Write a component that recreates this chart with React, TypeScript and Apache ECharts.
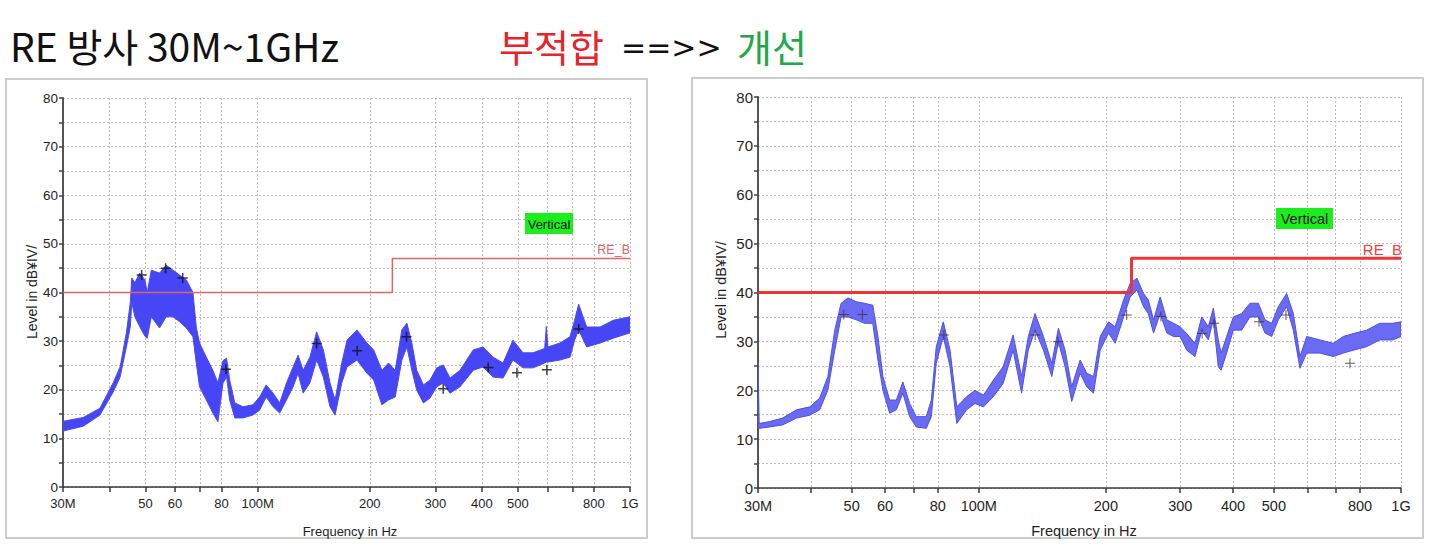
import React, { useEffect, useRef } from "react";
import * as echarts from "echarts";

// ---------- data ----------
const tickFreqs = [30, 40, 50, 60, 70, 80, 100, 200, 300, 400, 500, 600, 700, 800, 1000];
const labelFreqs = [30, 50, 60, 80, 100, 200, 300, 400, 500, 800, 1000];
const specialLabels: Record<number, string> = { 30: "30M", 100: "100M", 1000: "1G" };

const limitFreq = [30, 230, 230, 1000];
const limitLevel = [40, 40, 47, 47];

// left (before: 부적합)
const leftFreq = [30, 34, 37.7, 40.9, 42.7, 44.4, 45.5, 45.9, 46.8, 48.2, 49.8, 50.5, 51.8, 54.5, 56.8, 59.2, 61.7, 64.3, 67, 68.4, 69.8, 72.8, 75.8, 78.2, 80.7, 82.5, 84.1, 86.8, 91.3, 97.1, 101.2, 105.4, 110, 114.6, 119.5, 124.5, 128.4, 132.5, 138.1, 144, 150.1, 156.4, 161.4, 168.2, 173.8, 184.8, 196.6, 204.9, 215.6, 224.6, 234.1, 243.9, 251.6, 259.5, 267.4, 278.7, 290.4, 302.6, 315.2, 328.5, 349.4, 379.3, 403.3, 429, 456, 485, 516, 549, 590, 596, 602, 648, 690, 710, 728, 765, 831, 902, 1000];
const leftLow = [11.5, 12.5, 14.8, 19.5, 22.6, 28.8, 33, 38, 35, 33, 31, 30.6, 35, 32.7, 35, 35, 34, 32.7, 30.9, 25.5, 20.6, 17.9, 15.2, 13.4, 21.4, 22.6, 17.9, 14.2, 14.2, 14.8, 15.8, 18.5, 16.5, 15.2, 17.9, 20.6, 23.4, 19.3, 21.4, 26.1, 22.6, 16.5, 14.8, 21.4, 24.7, 26.1, 23.4, 22, 16.9, 17.9, 18.5, 26.1, 28.8, 24, 19.9, 17.3, 18.3, 20.6, 21.4, 19.3, 20.6, 24, 24.7, 22.6, 22.4, 26.1, 24.5, 24.5, 25.5, 25.7, 25.7, 26.1, 26.7, 30.2, 32.3, 28.8, 29.6, 30.6, 31.7];
const leftHigh = [13.5, 14.3, 16.2, 21.4, 24.7, 31.7, 38, 43, 42, 44, 42.6, 40, 44.6, 44, 45.6, 44.6, 43.6, 42.6, 40, 32.9, 29.6, 26.7, 24, 21.4, 26, 26.5, 22, 17.3, 16.5, 16.9, 18.5, 21, 19.3, 17.3, 21.4, 24.7, 27.1, 24, 26.7, 31.9, 28.2, 21.4, 17.9, 25.5, 30.2, 32.3, 29.6, 28.2, 24, 25.5, 24, 32.3, 33.7, 29.6, 24, 21, 22, 24.5, 25.1, 22.4, 24, 28.2, 28.8, 26.7, 25.5, 30.2, 27.6, 27.6, 28.5, 33, 28.8, 29.6, 30.9, 34.3, 37.6, 32.9, 32.9, 34.3, 35];
const leftMarkFreq = [48.8, 56.6, 62.9, 82.2, 144, 185, 251, 315, 416, 497, 598, 728];
const leftMarkLevel = [43.6, 45.0, 43.0, 24.2, 29.5, 28.0, 30.9, 20.2, 24.6, 23.5, 24.1, 32.5];

// right (after: 개선)
const rightFreq = [30, 30.2, 32, 34.3, 37, 39.8, 42, 43.9, 45.6, 47.2, 49, 51.3, 53.6, 56.1, 57.7, 59.3, 61.5, 63.8, 66.1, 68.6, 71.1, 75.1, 77.2, 79.3, 82.4, 85.5, 88.7, 93.6, 98, 102.6, 108.3, 114.2, 120.6, 126.3, 131, 135.9, 142.3, 148.9, 154.4, 160.1, 166, 173.8, 180.2, 187, 193.9, 202.9, 210.4, 220.3, 228.4, 236.9, 245.6, 252, 259.4, 268.9, 278.9, 289.2, 299.7, 310.8, 325.2, 337.3, 349.7, 359.3, 369.2, 375, 386.4, 400.7, 419.4, 438.9, 459.3, 476.3, 494, 512.2, 536, 555.8, 576.4, 598, 642.7, 691, 729.8, 770.8, 828.6, 890.5, 957, 1000];
const rightLow = [12.2, 12.2, 12.5, 12.9, 14.3, 14.9, 16, 20, 28.2, 35, 35, 34.4, 33.7, 33.7, 26.2, 20, 15.3, 16, 19.4, 14.6, 12.5, 12.2, 14.6, 25.5, 31, 24.8, 13.2, 16, 17.3, 16.6, 18.7, 21.4, 28.2, 19.4, 28.2, 32.3, 28.2, 22.8, 29.9, 24.8, 17.7, 23.5, 20.7, 19.4, 28.2, 31.7, 29.6, 35, 39.1, 40.5, 37.1, 35.7, 31.7, 35.7, 31.7, 31, 31, 28.2, 26.9, 32.3, 30.3, 34.4, 24.8, 24.1, 27.6, 32.3, 32.3, 35, 35, 31.7, 31, 34.4, 37.1, 32.3, 24.5, 27.6, 27.6, 26.9, 27.6, 28.2, 28.9, 30.3, 30.3, 31];
const rightHigh = [26, 13.2, 13.6, 14.3, 16, 16.6, 18.4, 22.8, 32.3, 37.8, 38.9, 38.1, 37.8, 37.4, 31, 22.8, 18, 18, 21.7, 17.3, 14.6, 14.6, 18, 28.9, 34, 28.2, 16.6, 18.7, 20, 19, 22.1, 24.8, 31.3, 22.8, 31, 35.7, 31, 25.5, 32.7, 28.2, 20.7, 26.2, 23.5, 22.8, 31, 34, 33, 38.5, 41.9, 42.9, 39.8, 38.5, 34.4, 39.1, 34.4, 33.7, 33, 31.6, 29.6, 35, 33, 36.8, 30.3, 27.6, 31, 35, 35.7, 37.8, 37.8, 34.4, 33.7, 37.1, 39.8, 35.7, 26.9, 31, 30.3, 29.6, 31, 31.6, 32.3, 33.7, 33.7, 34];
const rightMarkFreq = [47.9, 53.0, 82.7, 136, 154, 224, 270, 338, 361, 461, 534, 757];
const rightMarkLevel = [35.5, 35.5, 31.3, 31.3, 29.9, 35.4, 35.1, 31.6, 33.7, 34.0, 35.4, 25.5];

// ---------- helpers ----------
const lg = (f: number) => Math.log10(f);
const fmtFreq = (v: number) => {
  const f = Math.round(Math.pow(10, v));
  return specialLabels[f] ?? String(f);
};

const PLUS_THICK = "path://M4.25,0H5.75V4.25H10V5.75H5.75V10H4.25V5.75H0V4.25H4.25Z";
const PLUS_THIN = "path://M4.5,0H5.5V4.5H10V5.5H5.5V10H4.5V5.5H0V4.5H4.5Z";

function xAxisCfg(i: number, fontSize: number) {
  return {
    type: "value",
    gridIndex: i,
    min: lg(30),
    max: lg(1000),
    axisLine: { show: true, onZero: false, lineStyle: { color: "#3a3a3a", width: 1.5 } },
    axisTick: {
      show: true,
      customValues: tickFreqs.map(lg),
      length: 5,
      lineStyle: { color: "#3a3a3a", width: 1.5 },
    },
    axisLabel: {
      customValues: labelFreqs.map(lg),
      formatter: (v: number) => fmtFreq(v),
      color: "#1e1e1e",
      fontSize,
      fontFamily: "Liberation Sans, Arial, sans-serif",
      margin: 10,
      showMinLabel: true,
      showMaxLabel: true,
    },
    splitLine: { show: true, lineStyle: { color: "#bcbcbc", type: [2, 2], width: 1 } },
  };
}

function yAxisCfg(i: number, fontSize: number) {
  return {
    type: "value",
    gridIndex: i,
    min: 0,
    max: 80,
    interval: 10,
    axisLine: { show: true, lineStyle: { color: "#555555", width: 2 } },
    axisTick: { show: true, length: 4, lineStyle: { color: "#444", width: 1.5 } },
    minorTick: { show: true, splitNumber: 2, length: 4, lineStyle: { color: "#444", width: 1.5 } },
    axisLabel: {
      color: "#1e1e1e",
      fontSize,
      fontFamily: "Liberation Sans, Arial, sans-serif",
      margin: 5,
    },
    splitLine: { show: true, lineStyle: { color: "#bcbcbc", type: [2, 2], width: 1 } },
    minorSplitLine: { show: true, lineStyle: { color: "#bcbcbc", type: [2, 2], width: 1 } },
  };
}

function bandSeries(i: number, freq: number[], lo: number[], hi: number[], fill: string, stroke: string) {
  return {
    type: "custom",
    xAxisIndex: i,
    yAxisIndex: i,
    silent: true,
    clip: true,
    z: 3,
    data: [[lg(freq[0]), lo[0]]],
    renderItem: (_p: any, api: any) => {
      const top = freq.map((f, k) => api.coord([lg(f), hi[k]]));
      const bot = freq.map((f, k) => api.coord([lg(f), lo[k]])).reverse();
      return {
        type: "polygon",
        shape: { points: top.concat(bot) },
        style: { fill, stroke, lineWidth: 1, lineJoin: "round" },
      };
    },
  };
}

function limitSeries(i: number, color: string, width: number) {
  return {
    type: "line",
    xAxisIndex: i,
    yAxisIndex: i,
    silent: true,
    symbol: "none",
    z: 4,
    lineStyle: { color, width },
    data: limitFreq.map((f, k) => [lg(f), limitLevel[k]]),
  };
}

function markSeries(i: number, freq: number[], lvl: number[], symbol: string, color: string, size: number) {
  return {
    type: "scatter",
    xAxisIndex: i,
    yAxisIndex: i,
    silent: true,
    z: 5,
    symbol,
    symbolSize: size,
    itemStyle: { color },
    data: freq.map((f, k) => [lg(f), lvl[k]]),
  };
}

export default function App() {
  const ref = useRef<HTMLDivElement>(null);

  useEffect(() => {
    document.body.style.margin = "0";
    if (!ref.current) return;
    const chart = echarts.init(ref.current, null, { renderer: "svg" });
    const sans = "Liberation Sans, Arial, sans-serif";
    const kr = "Noto Sans CJK KR, sans-serif";

    chart.setOption({
      animation: false,
      backgroundColor: "#ffffff",
      grid: [
        { left: 63, top: 98, width: 567, height: 389, outerBoundsMode: "none" },
        { left: 758, top: 97, width: 643, height: 391, outerBoundsMode: "none" },
      ],
      xAxis: [xAxisCfg(0, 13), xAxisCfg(1, 14.5)],
      yAxis: [yAxisCfg(0, 13.5), yAxisCfg(1, 15)],
      series: [
        bandSeries(0, leftFreq, leftLow, leftHigh, "#4646f6", "#4a4af4"),
        limitSeries(0, "#e26464", 1.5),
        markSeries(0, leftMarkFreq, leftMarkLevel, PLUS_THICK, "#111111", 10),
        bandSeries(1, rightFreq, rightLow, rightHigh, "#6a6af2", "#4f4fea"),
        limitSeries(1, "#ee3434", 3),
        markSeries(1, rightMarkFreq, rightMarkLevel, PLUS_THIN, "#333333", 10),
      ],
      graphic: [
        // panels
        { type: "rect", z: -10, shape: { x: 6, y: 79, width: 641, height: 459 }, style: { fill: "transparent", stroke: "#cccccc", lineWidth: 2 } },
        { type: "rect", z: -10, shape: { x: 692, y: 78, width: 731, height: 460 }, style: { fill: "transparent", stroke: "#cccccc", lineWidth: 2 } },
        // titles
        { type: "text", x: 10, y: 45, style: { text: "RE 방사 30M~1GHz", font: `39px ${kr}`, fill: "#111111", verticalAlign: "middle" } },
        { type: "text", x: 499, y: 45, style: { text: "부적합", font: `38px ${kr}`, fill: "#e8232b", verticalAlign: "middle" } },
        { type: "text", x: 621, y: 47, style: { text: "==>>", font: `30px DejaVu Sans, sans-serif`, fill: "#111111", verticalAlign: "middle" } },
        { type: "text", x: 737, y: 45, style: { text: "개선", font: `38px ${kr}`, fill: "#22a84a", verticalAlign: "middle" } },
        // axis names
        { type: "text", x: 350, y: 531, style: { text: "Frequency in Hz", font: `13px ${sans}`, fill: "#1e1e1e", align: "center", verticalAlign: "middle" } },
        { type: "text", x: 1084, y: 531, style: { text: "Frequency in Hz", font: `14.5px ${sans}`, fill: "#1e1e1e", align: "center", verticalAlign: "middle" } },
        { type: "text", x: 32, y: 292, rotation: Math.PI / 2, style: { text: "Level in dB¥IV/", font: `14px ${sans}`, fill: "#1e1e1e", align: "center", verticalAlign: "middle" } },
        { type: "text", x: 721, y: 290, rotation: Math.PI / 2, style: { text: "Level in dB¥IV/", font: `14.5px ${sans}`, fill: "#1e1e1e", align: "center", verticalAlign: "middle" } },
        // Vertical tags
        { type: "rect", z: 10, shape: { x: 525, y: 213, width: 48, height: 21 }, style: { fill: "#1bef1b" } },
        { type: "text", z: 11, x: 549, y: 224, style: { text: "Vertical", font: `13px ${sans}`, fill: "#111111", align: "center", verticalAlign: "middle" } },
        { type: "rect", z: 10, shape: { x: 1276, y: 208, width: 57, height: 21 }, style: { fill: "#1bef1b" } },
        { type: "text", z: 11, x: 1304.5, y: 219, style: { text: "Vertical", font: `14.5px ${sans}`, fill: "#111111", align: "center", verticalAlign: "middle" } },
        // limit labels
        { type: "text", z: 11, x: 630, y: 250, style: { text: "RE_B", font: `12.5px ${sans}`, fill: "#e26464", align: "right", verticalAlign: "middle" } },
        { type: "text", z: 11, x: 1402, y: 249, style: { text: "RE_B", font: `15px ${sans}`, fill: "#ee4040", align: "right", verticalAlign: "middle" } },
      ],
    });
    return () => chart.dispose();
  }, []);

  return <div ref={ref} style={{ width: 1430, height: 546 }} />;
}
